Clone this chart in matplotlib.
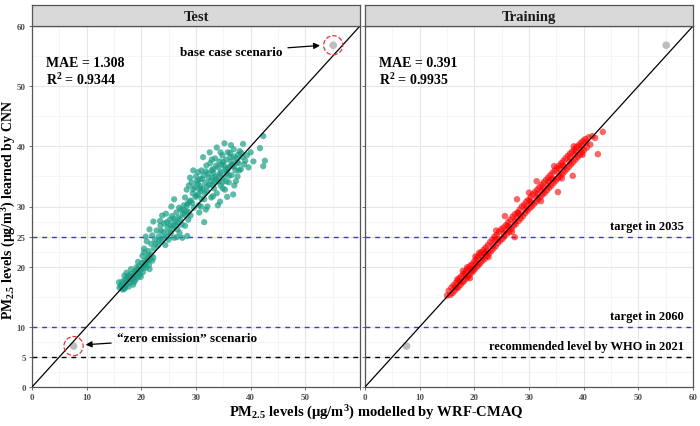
import matplotlib
matplotlib.use('Agg')
from matplotlib import pyplot as plt

plt.rcParams['font.family'] = ['Liberation Serif', 'DejaVu Serif']
plt.rcParams['font.weight'] = 'bold'
plt.rcParams['mathtext.fontset'] = 'custom'
plt.rcParams['mathtext.rm'] = 'Liberation Serif:bold'
plt.rcParams['mathtext.bf'] = 'Liberation Serif:bold'
plt.rcParams['mathtext.it'] = 'Liberation Serif:bold'

# test set: (WRF-CMAQ, CNN)
test_pts = [(16.2,16.8),(16.5,17.5),(16.8,16.3),(17.0,17.8),(17.2,16.9),(17.4,18.3),(17.5,17.2),(17.7,16.7),
            (17.9,18.0),(18.0,17.4),(18.2,18.8),(18.3,17.9),(18.5,17.0),(18.6,18.4),(18.8,19.2),(18.9,17.8),
            (19.0,18.6),(19.2,19.5),(19.3,18.2),(19.5,19.0),(19.6,20.1),(19.8,18.7),(20.0,19.6),(20.1,20.6),
            (20.3,19.1),(20.5,20.2),(20.6,21.0),(20.8,19.8),(21.0,20.7),(21.2,21.5),(21.4,20.3),(21.6,21.2),
            (21.8,22.0),(17.3,19.0),(18.1,19.6),(19.4,20.8),(20.2,21.8),(16.9,18.5),(18.7,17.5),(19.9,18.3),
            (21.5,19.6),(22.0,21.0),(15.9,17.4),(16.6,16.2),(17.8,18.6),(20.5,22.4),
            (16.4,16.9),(17.1,17.3),(17.6,17.9),(18.4,18.2),(18.9,18.9),(19.7,19.4),(20.4,20.0),(21.1,21.1),
            (16.0,16.5),(17.0,16.4),(18.0,18.3),(19.1,19.9),(20.7,20.5),(21.3,21.9),(22.2,21.5),(17.5,18.0),
            (20.5,23.0),(21.0,24.2),(21.3,22.6),(21.8,23.8),(22.0,25.2),(22.3,23.0),(22.5,24.5),(22.8,26.0),
            (23.0,23.5),(23.2,25.0),(23.5,26.8),(23.7,24.2),(24.0,25.8),(24.2,27.2),(24.4,23.6),(24.6,25.0),
            (24.8,26.5),(25.0,24.5),(25.2,27.8),(25.4,25.6),(25.6,28.4),(25.8,26.8),(26.0,24.8),(26.2,27.5),
            (26.4,29.0),(26.6,26.2),(26.8,28.2),(27.0,25.6),(27.2,29.5),(27.4,27.0),(27.6,28.8),(27.8,30.2),
            (28.0,26.8),(28.2,29.2),(28.4,25.1),(27.5,24.8),(26.5,24.9),(23.8,28.5),(22.2,27.5),(21.5,26.2),
            (20.8,25.0),(24.5,28.8),(25.5,30.0),(28.6,27.8),(28.8,30.8),(23.4,27.6),(26.0,31.2),(31.5,27.4),
            (22.6,23.8),(23.3,24.4),(24.1,24.9),(24.9,25.7),(25.7,26.3),(26.3,26.9),(27.1,27.9),(27.9,28.6),
            (23.6,25.9),(24.7,27.4),(25.9,28.0),(26.9,29.8),(28.3,30.1),(25.3,26.9),(26.7,27.3),(27.7,29.4),
            (28.0,31.5),(28.3,32.8),(28.5,30.5),(28.7,33.5),(29.0,31.0),(29.2,34.0),(29.4,32.2),(29.6,29.8),
            (29.8,33.2),(30.0,35.0),(30.1,31.8),(30.3,33.8),(30.5,30.2),(30.7,34.5),(30.9,32.6),(31.0,36.0),
            (31.2,33.0),(31.4,35.2),(31.5,31.2),(31.7,34.0),(31.9,36.8),(32.0,32.5),(32.2,35.5),(32.4,33.6),
            (32.6,37.2),(32.8,31.5),(33.0,34.8),(33.1,36.2),(33.3,33.0),(33.5,38.0),(33.6,35.0),(33.8,32.2),
            (34.0,36.5),(34.1,34.2),(34.3,37.5),(34.5,33.5),(34.6,35.8),(34.8,38.5),(35.0,34.8),(35.1,36.8),
            (35.3,32.8),(35.5,37.8),(35.6,35.5),(35.8,39.0),(36.0,34.0),(36.1,36.6),(36.3,38.2),(36.5,35.2),
            (36.7,37.0),(36.9,39.5),(37.0,33.5),(37.2,36.0),(37.4,38.0),(37.6,35.0),(37.8,37.2),(38.0,39.2),
            (38.2,36.2),(38.5,38.2),(38.8,37.0),(38.6,40.4),(39.3,38.5),(39.6,36.5),(40.0,39.0),(40.5,37.5),
            (41.7,39.7),(42.3,41.7),(42.6,37.6),(42.3,36.7),(29.5,36.0),(30.4,35.7),(31.3,38.2),(32.5,39.0),
            (33.8,39.8),(35.2,40.5),(36.4,40.2),(29.0,28.5),(30.6,29.0),(32.1,30.0),(34.0,30.2),
            (35.7,31.6),(34.4,30.8),(36.8,32.0),(31.8,29.5),(28.9,34.8),(32.9,36.0),(34.9,33.0),(36.2,38.9),
            (33.4,34.0),(31.1,34.6),(30.4,32.0),(35.4,36.2),(37.3,34.2),(29.5,32.9),(37.5,37.4),(33.2,35.6),
            (34.2,35.0),(35.9,36.4),(32.7,34.2),(30.8,33.4),(36.6,36.8),(34.7,37.0),
            (29.9,31.6),(30.6,32.9),(31.6,32.2),(32.3,34.8),(33.0,33.6),(33.7,36.8),(34.4,35.5),(35.0,37.4),
            (35.7,36.0),(36.4,37.5),(37.0,36.6),(37.7,38.6),(31.0,31.3),(32.0,33.3),(33.6,34.5),(34.8,34.0),
            (36.0,35.1),(29.3,30.6),(30.2,34.2),(31.8,35.8),(32.9,37.8),(34.5,39.0),(36.9,38.3),(38.3,38.9),
            (39.0,37.6),(37.9,36.0),(35.5,34.2),(33.1,31.7),(30.9,30.0),(28.6,29.1)]

# training set: (WRF-CMAQ, CNN)
train_pts = [(15.0,15.2),(15.3,16.0),(15.6,15.3),(15.8,16.5),(16.0,15.6),(16.2,16.9),(16.4,16.0),(16.6,17.3),
             (16.8,16.4),(17.0,17.6),(17.1,16.6),(17.3,18.1),(17.5,17.0),(17.6,18.4),(17.8,17.4),(18.0,18.8),
             (18.1,17.6),(18.3,19.0),(18.5,18.0),(18.6,19.5),(18.8,18.3),(19.0,19.7),(19.1,18.6),(19.3,20.2),
             (19.5,19.0),(19.6,20.4),(19.8,19.3),(20.0,20.9),(20.1,19.6),(20.3,21.2),(20.5,20.0),(20.6,21.6),
             (20.8,20.3),(21.0,22.0),(21.1,20.6),(21.3,22.4),(21.5,21.0),(21.7,22.8),(21.9,21.3),(22.1,23.2),
             (22.3,21.8),(22.5,23.6),(22.7,22.2),(22.9,24.1),(23.1,22.6),(23.3,24.5),(23.5,23.0),(23.7,25.0),
             (23.9,23.4),(24.1,25.3),(24.3,23.9),(24.5,25.8),(24.7,24.3),(24.9,26.2),(25.1,24.6),(25.3,26.5),
             (25.6,28.4),(25.5,25.0),(25.8,26.9),(26.0,25.5),(26.2,27.4),(26.4,25.8),(26.6,27.8),(26.8,26.3),
             (27.0,28.3),(27.4,24.9),(27.2,26.8),(27.4,28.7),(27.6,27.1),(27.8,31.2),(27.9,29.0),(28.1,27.6),
             (28.3,29.5),(28.5,28.0),(28.7,30.0),(28.9,28.4),(29.1,30.3),(29.3,28.9),(29.5,30.8),(29.7,29.3),
             (29.9,31.1),(30.1,29.7),(30.3,31.6),(30.5,30.0),(30.7,32.0),(30.9,30.4),(31.1,32.4),(31.4,34.2),
             (31.3,30.8),(31.5,32.8),(31.7,31.2),(31.9,33.2),(32.1,31.6),(32.3,33.6),(32.5,32.0),(32.7,34.0),
             (32.9,32.3),(33.1,34.4),(33.3,32.7),(33.5,34.8),(33.7,33.1),(33.9,35.2),(34.1,33.5),(34.3,35.6),
             (34.5,33.9),(34.7,36.0),(34.9,34.3),(35.1,36.4),(35.3,32.4),(35.3,34.7),(35.5,36.8),(35.7,35.0),
             (35.9,37.2),(36.1,35.4),(36.3,37.6),(36.5,35.8),(36.7,38.0),(36.9,36.2),(37.1,38.4),(37.3,36.6),
             (37.5,38.8),(37.7,37.0),(38.0,35.1),(37.9,39.1),(38.1,37.4),(38.3,39.5),(38.5,37.8),(38.7,39.9),
             (38.9,38.2),(39.1,40.2),(39.3,38.6),(39.5,40.6),(39.7,39.0),(39.9,40.9),(40.1,39.4),(40.3,41.2),
             (40.6,39.8),(40.9,41.5),(41.2,40.3),(41.6,41.7),(42.1,41.4),(42.6,38.7),(43.5,42.4),
             (16.5,16.6),(17.4,17.5),(18.4,18.5),(19.4,19.4),(20.4,20.6),(21.4,21.5),(22.4,22.6),(23.4,23.5),
             (24.4,24.6),(25.4,25.5),(26.4,26.6),(27.4,27.5),(28.4,28.6),(29.4,29.5),(30.4,30.6),(31.4,31.5),
             (32.4,32.6),(33.4,33.5),(34.4,34.6),(35.4,35.5),(36.4,36.6),(37.4,37.5),(38.4,38.6),(39.4,39.5),
             (17.9,19.3),(19.2,18.1),(20.9,22.3),(22.6,21.6),(24.0,26.0),(26.9,25.8),(30.0,32.3),(32.2,30.9),
             (34.6,36.7),(36.0,34.7),(38.2,40.0),(39.8,38.6),
             (16.9,17.9),(18.7,19.9),(20.2,21.7),(22.0,22.2),(23.8,24.4),(25.7,26.0),(27.7,28.1),(29.6,30.0),
             (31.6,32.1),(33.6,34.2),(35.6,36.3),(37.6,38.1),(39.6,40.1),(19.9,19.8),(21.8,22.3),(26.1,26.8),
             (28.0,28.9),(30.2,30.9),(32.6,33.1),(34.2,34.5),(36.2,36.9),(38.6,39.2),(40.5,40.6)]

# grey scenario points: (base case, zero emission)
scen_x = [55.1, 7.6]
scen_y = [56.8, 6.8]

panels = ['Test', 'Training']
mae = ['1.308', '0.391']
r2 = ['0.9344', '0.9935']
cols = ['#1a9e86', '#ff0000']
hlines = [25, 10, 5]
hline_cols = ['#3c3cc8', '#3c3cc8', 'black']
hline_labels = ['target in 2035', 'target in 2060', 'recommended level by WHO in 2021']
yticks = [0, 5, 10, 20, 25, 30, 40, 50, 60]
xticks = [0, 10, 20, 30, 40, 50, 60]

fig = plt.figure(figsize=(7, 4.27), dpi=100)
W, H = 700., 427.
lefts = [32, 365]
pw = 328
top, bot = 27, 388

for k, name in enumerate(panels):
    ax = fig.add_axes([lefts[k]/W, 1 - bot/H, pw/W, (bot - top)/H])
    sx = fig.add_axes([lefts[k]/W, 1 - top/H, pw/W, 21/H])
    sx.set_facecolor('#d9d9d9')
    sx.set_xticks([]); sx.set_yticks([])
    for s in sx.spines.values():
        s.set_color('#555555'); s.set_linewidth(0.9)
    sx.text(0.5, 0.45, name, ha='center', va='center', fontsize=10.5, fontweight='bold', color='#1a1a1a')

    ax.set_xlim(0, 60); ax.set_ylim(0, 60)
    for v in [5, 15, 25, 35, 45, 55]:
        ax.axvline(v, color='#f2f2f2', lw=0.5, zorder=0)
    for v in [2.5, 7.5, 15, 22.5, 27.5, 35, 45, 55]:
        ax.axhline(v, color='#f2f2f2', lw=0.5, zorder=0)
    for v in xticks:
        ax.axvline(v, color='#e6e6e6', lw=0.8, zorder=0)
    for v in yticks:
        ax.axhline(v, color='#e6e6e6', lw=0.8, zorder=0)

    pts = test_pts if k == 0 else train_pts
    ax.scatter([p[0] for p in pts], [p[1] for p in pts], s=20 if k == 0 else 22, color=cols[k],
               alpha=0.7 if k == 0 else 0.6, edgecolors='none', zorder=2)
    ax.scatter(scen_x, scen_y, s=30, color='#bdbdbd', edgecolors='none', zorder=2)
    ax.plot([0, 60], [0, 60], color='black', lw=0.9, zorder=3)

    for v, c in zip(hlines, hline_cols):
        ax.axhline(v, color=c, lw=1.0, dashes=(3.5, 3.5), zorder=1)

    ax.text(2.5, 49.9, 'MAE = ' + mae[k] + '\nR$^2$ = ' + r2[k], fontsize=10,
            fontweight='bold', va='bottom', ha='left', linespacing=1.15)

    ax.set_xticks(xticks); ax.set_yticks(yticks)
    ax.tick_params(length=2.5, width=0.6, color='#555555', labelsize=6.5,
                   labelcolor='#4d4d4d', pad=2)
    if k == 1:
        ax.set_yticklabels([])
        for v, t in zip(hlines, hline_labels):
            ax.text(58.3, v + 0.8, t, ha='right', va='bottom', fontsize=9, fontweight='bold')
    else:
        # last x label would collide with the next panel's 0
        ax.set_xticklabels([str(v) for v in xticks[:-1]] + [''])
        ax.scatter(scen_x, scen_y, s=190, facecolors='none', edgecolors='#e8353b',
                   linestyles='dashed', linewidths=0.9, zorder=4)
        ax.annotate('base case scenario', xy=(53.2, 56.8), xytext=(45.8, 55.7),
                    ha='right', va='center', fontsize=9.5, fontweight='bold',
                    arrowprops=dict(arrowstyle='-|>', color='black', lw=0.9, mutation_scale=9))
        ax.annotate('\u201czero emission\u201d scenario', xy=(9.3, 7.0), xytext=(15.5, 8.1),
                    ha='left', va='center', fontsize=9.5, fontweight='bold',
                    arrowprops=dict(arrowstyle='-|>', color='black', lw=0.9, mutation_scale=9))
    for s in ax.spines.values():
        s.set_color('#555555'); s.set_linewidth(0.9)

fig.text(376/W, 1 - 413/H, r'PM$_{2.5}$ levels ($\mathregular{\mu}$g/m$^3$) modelled by WRF-CMAQ',
         ha='center', va='center', fontsize=10.5, fontweight='bold')
fig.text(9/W, 1 - 210/H, r'PM$_{2.5}$ levels ($\mathregular{\mu}$g/m$^3$) learned by CNN',
         ha='center', va='center', rotation=90, fontsize=10, fontweight='bold')

fig.savefig('out.png', dpi=100)
